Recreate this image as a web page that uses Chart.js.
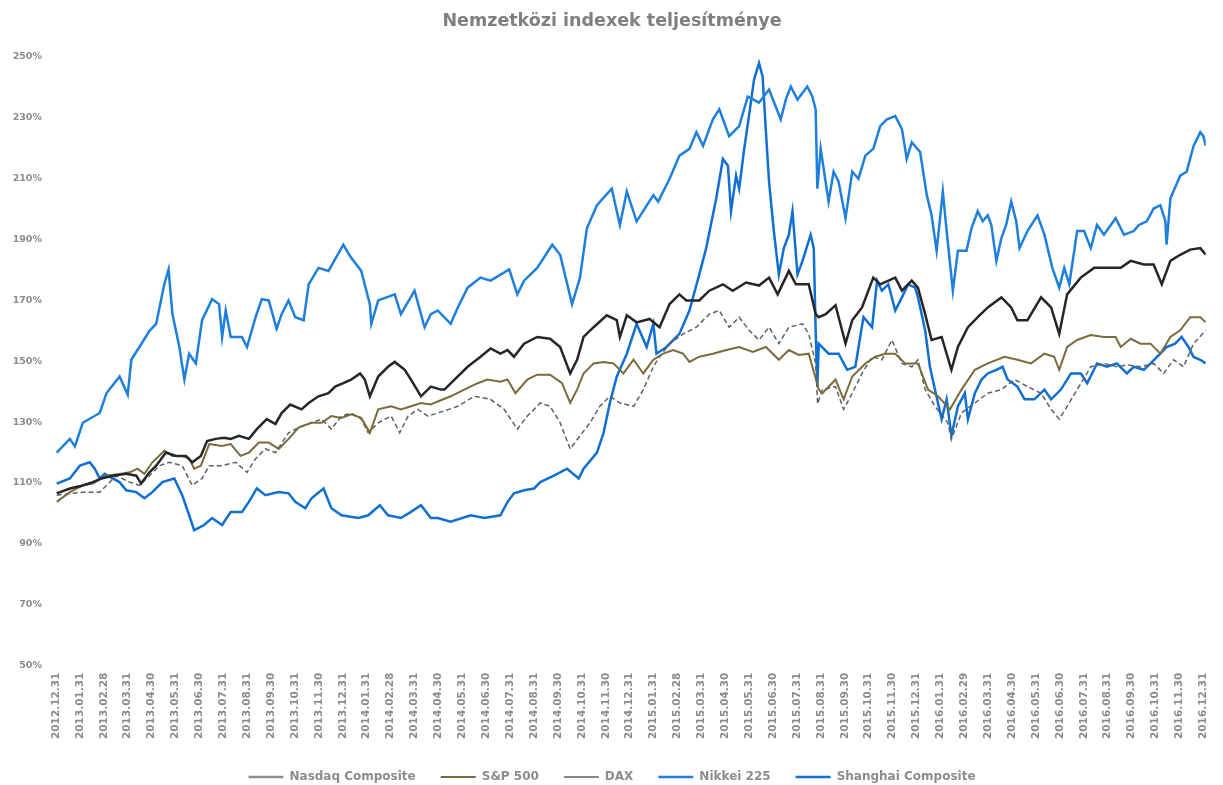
<!DOCTYPE html>
<html lang="hu">
  <head>
    <meta charset="utf-8" />
    <title>Nemzetközi indexek teljesítménye</title>
    <script src="https://cdn.jsdelivr.net/npm/chart.js"></script>
    <style>
      body {
        margin: 0;
        background: #fff;
      }
      .chart-box {
        width: 1223px;
        height: 785px;
      }
    </style>
  </head>
  <body>
    <div class="chart-box"><canvas id="idxChart"></canvas></div>
    <script>
      // hónap végi címkék (x tengely)
      const monthLabels = [
        "2012.12.31",
        "2013.01.31", "2013.02.28", "2013.03.31", "2013.04.30", "2013.05.31", "2013.06.30",
        "2013.07.31", "2013.08.31", "2013.09.30", "2013.10.31", "2013.11.30", "2013.12.31",
        "2014.01.31", "2014.02.28", "2014.03.31", "2014.04.30", "2014.05.31", "2014.06.30",
        "2014.07.31", "2014.08.31", "2014.09.30", "2014.10.31", "2014.11.30", "2014.12.31",
        "2015.01.31", "2015.02.28", "2015.03.31", "2015.04.30", "2015.05.31", "2015.06.30",
        "2015.07.31", "2015.08.31", "2015.09.30", "2015.10.31", "2015.11.30", "2015.12.31",
        "2016.01.31", "2016.02.29", "2016.03.31", "2016.04.30", "2016.05.31", "2016.06.30",
        "2016.07.31", "2016.08.31", "2016.09.30", "2016.10.31", "2016.11.30", "2016.12.31",
      ];
      const yTicks = [50, 70, 90, 110, 130, 150, 170, 190, 210, 230, 250];

      // idő: hónapok száma 2012.12.31 óta, érték: %
      const nasdaqT = [0.03, 0.58, 1.12, 1.54, 1.9, 2.37, 2.94, 3.36, 3.56, 3.91, 4.19, 4.6, 5.02, 5.44, 5.7, 6.06, 6.32, 6.68, 7.03, 7.31, 7.65, 8.07, 8.4, 8.82, 9.18, 9.44, 9.8, 10.27, 10.57, 10.98, 11.4, 11.68, 12.02, 12.35, 12.72, 12.92, 13.13, 13.48, 13.89, 14.17, 14.59, 14.85, 15.27, 15.68, 16.1, 16.25, 16.67, 17.22, 17.76, 18.18, 18.59, 18.89, 19.16, 19.58, 20.13, 20.67, 21.09, 21.51, 21.8, 22.07, 22.49, 23.04, 23.46, 23.59, 23.88, 24.29, 24.83, 25.25, 25.67, 26.08, 26.37, 26.91, 27.33, 27.9, 28.31, 28.87, 29.41, 29.83, 30.19, 30.66, 30.95, 31.49, 31.78, 31.91, 32.2, 32.61, 33.03, 33.31, 33.72, 34.19, 34.48, 35.11, 35.39, 35.8, 36.06, 36.36, 36.63, 37.05, 37.46, 37.73, 38.15, 38.56, 38.98, 39.55, 39.96, 40.22, 40.64, 41.21, 41.63, 41.97, 42.3, 42.87, 43.43, 43.97, 44.54, 44.96, 45.51, 45.92, 46.26, 46.62, 47.03, 47.45, 47.87, 48.1];
      const nasdaqV = [106.6, 108.2, 109.2, 110.3, 111.5, 112.4, 113, 112.4, 109.8, 113.5, 115.7, 120, 118.9, 118.9, 116.8, 118.9, 123.8, 124.5, 124.9, 124.5, 125.5, 124.5, 127.7, 131, 129.4, 133, 135.8, 134.2, 136.3, 138.5, 139.5, 141.7, 142.8, 144, 146, 144, 138.5, 145, 148.2, 149.8, 147.2, 144, 138.5, 141.7, 140.7, 140.7, 144, 148.2, 151.5, 154.2, 152.5, 153.7, 151.5, 155.8, 158, 157.4, 154.7, 146, 150.5, 158, 161.2, 165.1, 163.5, 158, 165.1, 162.8, 163.9, 161.2, 168.8, 172, 170, 170, 173.2, 175.3, 173.2, 175.9, 174.9, 177.5, 172, 179.7, 175.3, 175.3, 165.5, 164.5, 165.5, 168.4, 155.8, 163.5, 167.7, 177.5, 175.3, 177.5, 173.2, 176.5, 174.2, 165.5, 157, 158, 147.2, 154.7, 161.2, 164.5, 167.7, 171, 167.7, 163.5, 163.5, 171, 167.7, 159, 172, 177.5, 180.7, 180.7, 180.7, 183, 181.8, 181.8, 175.3, 183, 185, 186.7, 187.2, 185];

      const spT = [0.03, 0.58, 1.12, 1.54, 2.11, 2.66, 3.08, 3.41, 3.7, 4.03, 4.53, 4.87, 5.28, 5.57, 5.78, 6.06, 6.41, 6.95, 7.31, 7.72, 8.07, 8.49, 8.9, 9.32, 9.73, 10.15, 10.69, 11.11, 11.52, 11.94, 12.35, 12.77, 13.13, 13.48, 14.02, 14.43, 14.85, 15.27, 15.68, 15.97, 16.51, 17.08, 17.64, 18.05, 18.59, 18.89, 19.22, 19.72, 20.13, 20.67, 21.17, 21.51, 21.8, 22.07, 22.49, 22.91, 23.32, 23.74, 24.16, 24.57, 24.99, 25.4, 25.82, 26.23, 26.5, 26.91, 27.48, 28.04, 28.58, 29.15, 29.7, 30.24, 30.66, 31.07, 31.49, 31.91, 32.06, 32.61, 32.95, 33.31, 33.86, 34.28, 34.69, 35.11, 35.52, 36.06, 36.48, 36.9, 37.4, 37.88, 38.44, 38.98, 39.68, 40.22, 40.79, 41.35, 41.76, 41.97, 42.3, 42.72, 43.29, 43.84, 44.33, 44.54, 44.96, 45.37, 45.79, 46.2, 46.62, 47.03, 47.45, 47.87, 48.1];
      const spV = [103.8, 107, 109.2, 109.8, 112.4, 113, 113.5, 114.7, 113, 116.8, 120.6, 118.9, 118.9, 118, 114.7, 115.7, 122.8, 122.2, 122.8, 118.9, 120, 123.3, 123.3, 121.2, 124.5, 128.2, 129.8, 129.8, 132, 131.4, 132.6, 131.4, 126.5, 134.2, 135.2, 134.2, 135.2, 136.3, 135.8, 136.8, 138.5, 140.7, 142.8, 144, 143.3, 144, 139.5, 144, 145.6, 145.6, 142.8, 136.3, 140.7, 146, 149.3, 149.8, 149.3, 146, 150.5, 146, 150.5, 152.5, 153.7, 152.5, 149.8, 151.5, 152.5, 153.7, 154.7, 153.1, 154.7, 150.5, 153.7, 152.1, 152.5, 140.7, 139.5, 144, 137.5, 145, 149.3, 151.5, 152.5, 152.5, 149.3, 149.3, 140.7, 138.5, 134.2, 140.7, 147.2, 149.3, 151.5, 150.5, 149.3, 152.5, 151.5, 147.2, 154.7, 157, 158.6, 158, 158, 154.7, 157.4, 155.8, 155.8, 152.5, 158, 160.2, 164.5, 164.5, 162.8];

      const daxT = [0.03, 1.12, 1.83, 2.52, 3.08, 3.49, 3.91, 4.33, 4.74, 5.28, 5.7, 6.11, 6.41, 6.95, 7.52, 7.99, 8.35, 8.76, 9.18, 9.73, 10.27, 10.69, 11.11, 11.52, 11.94, 12.35, 12.77, 13.06, 13.48, 14.02, 14.38, 14.73, 15.14, 15.56, 15.97, 16.81, 17.5, 18.18, 18.75, 19.3, 19.72, 20.26, 20.67, 21.09, 21.51, 21.92, 22.34, 22.75, 23.17, 23.59, 24.16, 24.57, 24.99, 25.25, 25.67, 26.24, 26.79, 27.33, 27.75, 28.16, 28.58, 28.99, 29.41, 29.83, 30.24, 30.66, 31.23, 31.49, 31.78, 31.86, 32.06, 32.61, 32.95, 33.31, 33.72, 34.14, 34.55, 34.97, 35.39, 35.8, 36.06, 36.36, 36.77, 37.31, 37.46, 37.88, 38.44, 38.98, 39.55, 40.1, 40.64, 41.21, 41.63, 41.97, 42.3, 42.72, 43.29, 43.84, 44.38, 44.8, 45.37, 45.92, 46.34, 46.75, 47.17, 47.59, 48.1];
      const daxV = [106, 107, 107, 112.4, 110.3, 109.2, 112.4, 115.7, 116.8, 115.7, 109.2, 111.5, 115.7, 115.7, 116.8, 113.5, 118, 121.2, 120, 126.5, 128.7, 129.8, 131, 127.7, 132, 133, 131, 126.5, 129.8, 132, 126.5, 132, 134.2, 132, 133, 135.2, 138.5, 137.5, 134.2, 127.7, 132, 136.3, 135.2, 129.8, 121.2, 125.5, 129.8, 135.2, 138.5, 136.3, 135.2, 140.7, 148.2, 151.5, 155.8, 159, 161.2, 165.5, 166.7, 161.2, 164.5, 160.2, 157, 161.2, 155.8, 161.2, 162.3, 159, 149.3, 136, 140.7, 141.7, 134.2, 139.5, 146, 151.5, 150.5, 157, 149.3, 148.2, 150.5, 140.7, 135.2, 129.8, 124.5, 133, 136.3, 139.5, 140.7, 144, 141.7, 139.5, 134.2, 131, 135.2, 140.7, 148.2, 149.3, 148.2, 148.8, 148.2, 149.3, 146, 150.5, 148.2, 155.8, 160.2];

      const nikkeiT = [0.03, 0.58, 0.79, 1.12, 1.83, 2.11, 2.66, 3.0, 3.15, 3.49, 3.91, 4.19, 4.53, 4.71, 4.87, 5.16, 5.37, 5.57, 5.85, 6.11, 6.53, 6.82, 6.95, 7.1, 7.31, 7.78, 7.99, 8.35, 8.61, 8.9, 9.23, 9.44, 9.73, 10.01, 10.36, 10.57, 10.98, 11.4, 12.02, 12.35, 12.77, 13.13, 13.19, 13.48, 14.17, 14.43, 15.0, 15.42, 15.68, 15.97, 16.51, 16.81, 17.22, 17.76, 18.18, 18.96, 19.3, 19.58, 20.13, 20.76, 21.09, 21.59, 21.92, 22.21, 22.63, 23.25, 23.59, 23.88, 24.29, 24.99, 25.19, 25.67, 26.08, 26.5, 26.79, 27.07, 27.48, 27.75, 28.16, 28.58, 28.94, 29.41, 29.83, 30.32, 30.53, 30.74, 31.02, 31.43, 31.64, 31.78, 31.85, 31.99, 32.32, 32.53, 32.74, 33.03, 33.31, 33.57, 33.86, 34.19, 34.48, 34.76, 35.11, 35.39, 35.59, 35.8, 36.15, 36.43, 36.63, 36.84, 37.1, 37.26, 37.52, 37.73, 38.09, 38.3, 38.56, 38.77, 38.98, 39.13, 39.34, 39.55, 39.75, 39.96, 40.17, 40.31, 40.64, 41.06, 41.35, 41.68, 41.97, 42.18, 42.39, 42.72, 43.01, 43.29, 43.55, 43.84, 44.33, 44.68, 45.09, 45.3, 45.63, 45.92, 46.2, 46.41, 46.46, 46.62, 47.03, 47.3, 47.59, 47.87, 48.0, 48.1];
      const nikkeiV = [120, 124.5, 122, 129.8, 133, 139.5, 145, 139, 150.5, 154.7, 160, 162.3, 175.3, 180.2, 165.5, 154.7, 144, 152.5, 149.3, 163.5, 170.4, 168.8, 158, 166.7, 158, 158, 154.7, 164.5, 170.4, 170, 160.7, 165.5, 170, 164.5, 163.5, 175.3, 180.7, 179.7, 188.3, 184, 179.7, 168.8, 162.3, 170, 172, 165.5, 173.2, 161.2, 165.5, 166.7, 162.3, 167.7, 174.2, 177.5, 176.5, 180.2, 172, 176.5, 180.7, 188.3, 185, 168.8, 177.5, 193.7, 201.3, 206.7, 194.8, 205.8, 196, 204.6, 202.5, 210, 217.6, 219.8, 225.3, 220.8, 229.5, 232.8, 224, 227.3, 237, 235, 239.3, 229.5, 236, 240.3, 236, 240.3, 237, 232.8, 206.7, 219.8, 202.5, 212.3, 209, 197, 212.3, 210, 217.6, 219.8, 227.3, 229.5, 230.6, 226.3, 216.5, 222, 218.8, 204.6, 198, 186.3, 205.8, 192.8, 173.2, 186.3, 186.3, 193.7, 199.3, 196, 198, 194.8, 183, 190.5, 194.8, 202.5, 196, 187.2, 192.8, 198, 191.6, 180.7, 174.2, 180.7, 175.3, 192.8, 192.8, 187.2, 194.8, 191.6, 197, 191.6, 192.8, 194.8, 196, 200.2, 201.3, 196, 188.3, 203.5, 211, 212.3, 220.8, 225.3, 224, 220.8];

      const shanghaiT = [0.03, 0.58, 1.0, 1.41, 1.62, 1.83, 2.04, 2.37, 2.66, 2.94, 3.36, 3.7, 4.03, 4.45, 4.95, 5.28, 5.57, 5.78, 6.2, 6.53, 6.95, 7.31, 7.78, 8.07, 8.4, 8.76, 9.32, 9.73, 10.01, 10.43, 10.69, 11.19, 11.52, 11.94, 12.65, 13.06, 13.55, 13.89, 14.43, 14.85, 15.27, 15.68, 15.97, 16.51, 17.35, 17.92, 18.59, 18.89, 19.16, 19.58, 20.0, 20.26, 20.83, 21.38, 21.87, 22.07, 22.63, 22.91, 23.17, 23.46, 23.88, 24.29, 24.71, 24.99, 25.12, 25.54, 26.08, 26.5, 26.91, 27.2, 27.62, 27.9, 28.11, 28.24, 28.45, 28.58, 28.79, 28.99, 29.2, 29.41, 29.56, 29.7, 29.83, 30.03, 30.24, 30.45, 30.66, 30.81, 31.02, 31.23, 31.57, 31.7, 31.78, 31.85, 31.91, 32.32, 32.74, 33.1, 33.44, 33.78, 34.14, 34.35, 34.55, 34.82, 35.11, 35.39, 35.65, 35.94, 36.06, 36.36, 36.56, 36.77, 37.05, 37.26, 37.46, 37.73, 38.02, 38.15, 38.44, 38.72, 38.98, 39.34, 39.6, 39.81, 40.22, 40.52, 40.93, 41.35, 41.63, 42.04, 42.46, 42.88, 43.14, 43.55, 43.97, 44.38, 44.8, 45.09, 45.51, 45.79, 46.2, 46.46, 46.82, 47.09, 47.38, 47.59, 47.87, 48.1];
      const shanghaiV = [109.8, 111.5, 115.7, 116.8, 114.7, 111.5, 113, 111.5, 110.3, 107.6, 107, 105, 107, 110.3, 111.5, 106, 99.4, 94.5, 96.2, 98.5, 96.2, 100.5, 100.5, 103.8, 108.2, 106, 107, 106.6, 103.8, 101.7, 105, 108.2, 101.7, 99.4, 98.5, 99.4, 102.7, 99.4, 98.5, 100.5, 102.7, 98.5, 98.5, 97.3, 99.4, 98.5, 99.4, 103.8, 106.6, 107.6, 108.2, 110.3, 112.4, 114.7, 111.5, 114.7, 120, 126.5, 136.3, 145, 152.5, 162.3, 154.7, 162.3, 152.5, 154.7, 159, 166.7, 178.5, 187.2, 203.5, 216.5, 214.3, 199.3, 211, 206.7, 219.8, 230.6, 242.5, 248, 243.6, 225.3, 209, 192.8, 178.5, 187.2, 191.6, 199.3, 178.5, 183, 191.6, 187.2, 160.2, 141.7, 155.8, 152.5, 152.5, 147.2, 148.2, 164.5, 161.2, 176.5, 173.2, 175.3, 166.7, 171, 175.3, 174.2, 171, 160.2, 148.2, 140.7, 131, 137.5, 125.5, 135.2, 139.5, 131, 139.5, 144, 146, 147.2, 148.2, 144, 141.7, 137.5, 137.5, 140.7, 137.5, 140.7, 146, 146, 142.8, 149.3, 148.2, 149.3, 146, 148.2, 147.2, 149.3, 152.5, 154.7, 155.8, 158, 154.7, 151.4, 150.5, 149.3];

      const pts = (ts, vs) => ts.map((t, i) => ({ x: t, y: vs[i] }));
      const gray = "#8c8c8c";

      new Chart(document.getElementById("idxChart"), {
        type: "line",
        data: {
          datasets: [
            {
              label: "Nasdaq Composite",
              data: pts(nasdaqT, nasdaqV),
              borderColor: "#262626",
              borderWidth: 2.5,
            },
            {
              label: "S&P 500",
              data: pts(spT, spV),
              borderColor: "#7a6b3c",
              borderWidth: 2,
            },
            {
              label: "DAX",
              data: pts(daxT, daxV),
              borderColor: "#5f5f5f",
              borderWidth: 1.5,
              borderDash: [5, 3],
            },
            {
              label: "Nikkei 225",
              data: pts(nikkeiT, nikkeiV),
              borderColor: "#1f7fdc",
              borderWidth: 2.5,
            },
            {
              label: "Shanghai Composite",
              data: pts(shanghaiT, shanghaiV),
              borderColor: "#0f6fd3",
              borderWidth: 2.5,
            },
          ],
        },
        options: {
          responsive: true,
          maintainAspectRatio: false,
          animation: false,
          elements: { point: { radius: 0 }, line: { tension: 0 } },
          layout: { padding: { left: 12, right: 11, top: 0, bottom: -8 } },
          plugins: {
            title: {
              display: true,
              text: "Nemzetközi indexek teljesítménye",
              color: "#7f7f7f",
              font: { family: "DejaVu Sans", size: 17.5, weight: "bold" },
              padding: { top: 11, bottom: 25 },
            },
            legend: {
              position: "bottom",
              labels: {
                color: gray,
                font: { family: "DejaVu Sans", size: 12, weight: "bold" },
                usePointStyle: true,
                pointStyle: "line",
                pointStyleWidth: 35,
                padding: 25,
                // Nasdaq a jelmagyarázatban szürke
                generateLabels: (chart) =>
                  Chart.defaults.plugins.legend.labels
                    .generateLabels(chart)
                    .map((l, i) => (i === 0 ? { ...l, strokeStyle: "#8f8f8f" } : l)),
              },
            },
            tooltip: { enabled: false },
          },
          scales: {
            x: {
              type: "linear",
              min: 0,
              max: 48.1,
              grid: { display: false, drawTicks: false },
              border: { display: false },
              afterBuildTicks: (scale) => {
                scale.ticks = monthLabels.map((_, i) => ({ value: i }));
              },
              ticks: {
                autoSkip: false,
                minRotation: 90,
                maxRotation: 90,
                padding: 7,
                color: gray,
                font: { family: "DejaVu Sans", size: 10.5, weight: "bold" },
                callback: (v, i) => monthLabels[i],
              },
            },
            y: {
              min: 50,
              max: 250,
              grid: { display: false, drawTicks: false },
              border: { display: false },
              afterBuildTicks: (scale) => {
                scale.ticks = yTicks.map((v) => ({ value: v }));
              },
              afterFit: (scale) => {
                scale.width = 44;
              },
              ticks: {
                padding: 14,
                color: gray,
                font: { family: "DejaVu Sans", size: 9.5, weight: "bold" },
                callback: (v) => v + "%",
              },
            },
          },
        },
      });
    </script>
  </body>
</html>
